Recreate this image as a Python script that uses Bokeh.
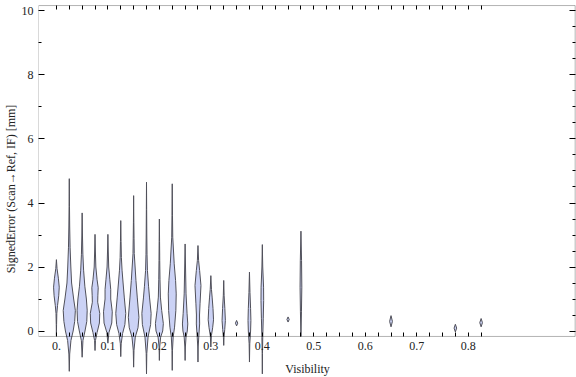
import numpy as np
from bokeh.plotting import figure
from bokeh.models import LinearAxis, FixedTicker, BoxAnnotation, Range1d
from bokeh.embed import file_html
from bokeh.resources import INLINE

# ---- data ----
violin_x = [0.0, 0.025, 0.05, 0.075, 0.1, 0.125, 0.15, 0.175, 0.2, 0.225, 0.25,
            0.275, 0.3, 0.325, 0.35, 0.375, 0.4, 0.45, 0.475, 0.65, 0.775, 0.825]

# profile knots (error values, top -> bottom)
violin_y = [
    [2.23, 1.95, 1.65, 1.37, 1.1, 0.8, 0.55, 0.2, -0.15],
    [4.76, 3.9, 3.25, 2.6, 2.0, 1.5, 1.0, 0.64, 0.3, 0.0, -0.3, -0.72, -1.26],
    [3.69, 3.0, 2.4, 1.9, 1.4, 1.0, 0.65, 0.3, 0.0, -0.3, -0.82],
    [3.02, 2.5, 2.0, 1.6, 1.35, 1.1, 0.9, 0.55, 0.25, -0.05, -0.3, -0.61],
    [3.02, 2.5, 2.0, 1.6, 1.3, 1.0, 0.6, 0.25, -0.05, -0.38],
    [3.45, 2.8, 2.3, 1.9, 1.5, 1.06, 0.55, 0.2, -0.08, -0.4, -0.8],
    [4.23, 3.4, 2.9, 2.42, 1.58, 1.06, 0.43, 0.1, -0.19, -0.6, -1.13],
    [4.65, 3.8, 3.0, 2.4, 1.89, 1.4, 1.06, 0.55, 0.2, -0.19, -0.7, -1.34],
    [3.5, 2.8, 2.2, 1.6, 1.06, 0.64, 0.23, 0.0, -0.19, -0.5, -0.92],
    [4.6, 3.6, 2.93, 2.1, 1.58, 1.16, 0.64, 0.12, -0.19, -0.6, -1.23],
    [2.72, 2.0, 1.16, 0.54, 0.22, 0.0, -0.19, -0.5, -0.92],
    [2.67, 2.2, 1.89, 1.42, 0.85, 0.5, 0.22, -0.19, -0.5, -0.97],
    [1.73, 1.3, 1.06, 0.7, 0.35, 0.1, -0.15, -0.5],
    [1.58, 1.1, 0.7, 0.33, 0.05, -0.2, -0.45],
    [0.33, 0.245, 0.16],
    [1.84, 1.2, 0.7, 0.33, 0.0, -0.4, -0.97],
    [2.7, 2.0, 1.37, 0.95, 0.4, -0.2, -0.7, -1.34],
    [0.44, 0.36, 0.28],
    [3.12, 2.2, 1.37, 0.6, -0.17],
    [0.48, 0.3, 0.13],
    [0.21, 0.09, -0.03],
    [0.39, 0.26, 0.13],
]

# half widths of the density at those knots (in Visibility units)
violin_w = [
    [0, 0.0012, 0.0038, 0.0055, 0.0045, 0.0022, 0.0008, 0.0003, 0],
    [0, 0.0004, 0.0008, 0.0016, 0.003, 0.0045, 0.0085, 0.0118, 0.0105, 0.0075, 0.0032, 0.0008, 0],
    [0, 0.0006, 0.0014, 0.0028, 0.0052, 0.0082, 0.0098, 0.009, 0.0055, 0.0015, 0],
    [0, 0.0007, 0.0016, 0.004, 0.0062, 0.0055, 0.0052, 0.0092, 0.0085, 0.004, 0.0008, 0],
    [0, 0.0007, 0.0016, 0.0038, 0.0055, 0.0055, 0.0085, 0.0075, 0.002, 0],
    [0, 0.0006, 0.0012, 0.0025, 0.0045, 0.0068, 0.0097, 0.008, 0.0035, 0.0008, 0],
    [0, 0.0004, 0.0008, 0.0012, 0.0045, 0.007, 0.0103, 0.0085, 0.0032, 0.0007, 0],
    [0, 0.0003, 0.0006, 0.001, 0.0018, 0.004, 0.0058, 0.009, 0.008, 0.003, 0.0006, 0],
    [0, 0.0004, 0.0007, 0.0012, 0.002, 0.0045, 0.0077, 0.0065, 0.0025, 0.0006, 0],
    [0, 0.0005, 0.001, 0.0038, 0.0065, 0.0077, 0.007, 0.0045, 0.0018, 0.0005, 0],
    [0, 0.0008, 0.0018, 0.0038, 0.0052, 0.0042, 0.0018, 0.0005, 0],
    [0, 0.0012, 0.0032, 0.0058, 0.004, 0.003, 0.0032, 0.0015, 0.0004, 0],
    [0, 0.0012, 0.0025, 0.0042, 0.0052, 0.0035, 0.001, 0],
    [0, 0.0008, 0.0022, 0.0032, 0.002, 0.0006, 0],
    [0, 0.0022, 0],
    [0, 0.001, 0.0022, 0.0028, 0.0022, 0.0006, 0],
    [0, 0.0008, 0.0024, 0.0026, 0.0018, 0.0008, 0.0003, 0],
    [0, 0.0022, 0],
    [0, 0.0012, 0.0017, 0.001, 0],
    [0, 0.0027, 0],
    [0, 0.0025, 0],
    [0, 0.0026, 0],
]

x_tick_values = [0.0, 0.1, 0.2, 0.3, 0.4, 0.5, 0.6, 0.7, 0.8]
x_tick_labels = ["0.", "0.1", "0.2", "0.3", "0.4", "0.5", "0.6", "0.7", "0.8"]
x_minor_values = [0.025, 0.05, 0.075, 0.125, 0.15, 0.175, 0.225, 0.25, 0.275,
                  0.325, 0.35, 0.375, 0.425, 0.45, 0.475, 0.525, 0.55, 0.575,
                  0.625, 0.65, 0.675, 0.725, 0.75, 0.775, 0.825]
y_tick_values = [0, 2, 4, 6, 8, 10]
y_tick_labels = ["0", "2", "4", "6", "8", "10"]
y_minor_left = [1, 3, 5, 7, 9]
y_minor_right = [0.5, 1, 1.5, 2.5, 3, 3.5, 4.5, 5, 5.5, 6.5, 7, 7.5, 8.5, 9, 9.5]

# frame limits (data units)
X_LO, X_HI = -0.0348, 1.0077
Y_LO, Y_HI = -0.17, 10.17

FONT = "Liberation Serif"
TXT = "#222222"

# ---- build violin outlines ----
xs, ys = [], []
for xc, yk, wk in zip(violin_x, violin_y, violin_w):
    yk = np.asarray(yk, dtype=float)
    wk = np.asarray(wk, dtype=float)
    xs.append(list(xc - wk) + list((xc + wk)[::-1]))
    ys.append(list(yk) + list(yk[::-1]))

p = figure(width=576, height=377, output_backend="svg", toolbar_location=None,
           x_range=Range1d(X_LO, X_LO + 540 / 516.7),
           y_range=Range1d(-1.453, 10.328),
           x_axis_location=None, y_axis_location=None, title=None,
           min_border_left=36, min_border_right=0, min_border_top=0,
           min_border_bottom=0)
p.outline_line_color = None
p.background_fill_color = "white"
p.border_fill_color = "white"
p.xgrid.visible = False
p.ygrid.visible = False

p.patches(xs, ys, fill_color="#cbd2f5", line_color="#50505a", line_width=1)

# frame
p.add_layout(BoxAnnotation(left=X_LO, right=X_HI, bottom=Y_LO, top=Y_HI,
                           fill_color=None, fill_alpha=0,
                           line_color="black", line_width=1))

def style(ax, tin, minin):
    ax.axis_line_color = None
    ax.major_tick_in = tin
    ax.major_tick_out = 0
    ax.minor_tick_in = minin
    ax.minor_tick_out = 0
    ax.major_tick_line_color = "black"
    ax.minor_tick_line_color = "black"
    ax.major_label_text_font = FONT
    ax.major_label_text_font_size = "12px"
    ax.major_label_text_color = TXT
    ax.axis_label_text_font = FONT
    ax.axis_label_text_font_size = "12px"
    ax.axis_label_text_font_style = "normal"
    ax.axis_label_text_color = TXT

left = LinearAxis(ticker=FixedTicker(ticks=y_tick_values, minor_ticks=y_minor_left),
                  axis_label="SignedError (Scan\u2192Ref, IF) [mm]")
style(left, 6, 3)
left.major_label_overrides = dict(zip(y_tick_values, y_tick_labels))
left.major_label_standoff = 5
left.axis_label_standoff = 1
p.add_layout(left, "left")

right = LinearAxis(fixed_location=X_HI,
                   ticker=FixedTicker(ticks=y_tick_values, minor_ticks=y_minor_right))
style(right, 6, 3)
right.major_label_text_color = None
p.add_layout(right, "right")

bottom = LinearAxis(fixed_location=Y_LO,
                    ticker=FixedTicker(ticks=x_tick_values, minor_ticks=x_minor_values),
                    axis_label="Visibility")
style(bottom, 4, 4)
bottom.major_label_overrides = dict(zip(x_tick_values, x_tick_labels))
bottom.major_label_standoff = 6
bottom.axis_label_standoff = 8
p.add_layout(bottom, "below")

top = LinearAxis(fixed_location=Y_HI,
                 ticker=FixedTicker(ticks=x_tick_values, minor_ticks=x_minor_values))
style(top, 4, 4)
top.major_label_text_color = None
p.add_layout(top, "above")

open("out.html", "w").write(file_html(p, INLINE))
